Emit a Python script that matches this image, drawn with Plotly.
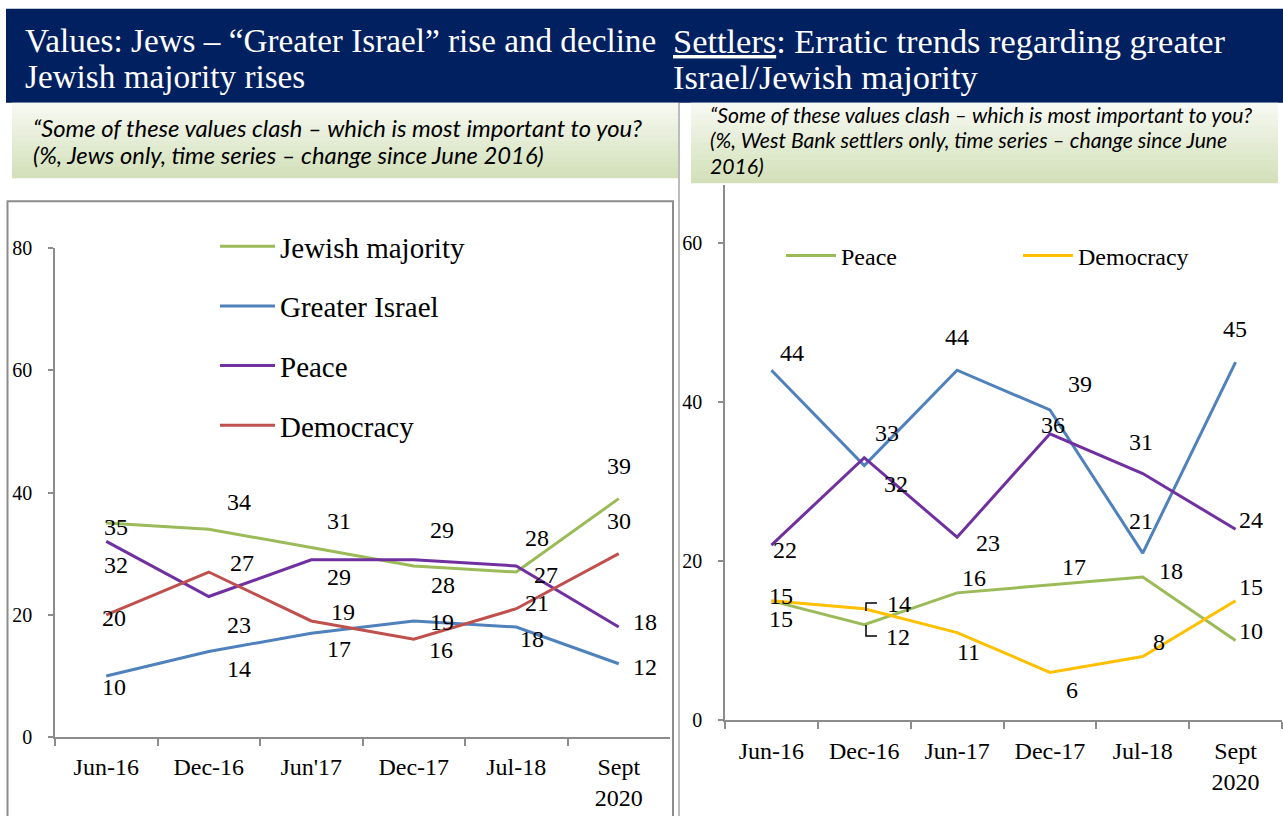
import plotly.graph_objects as go

# ---------------- data ----------------
left_categories = ["Jun-16", "Dec-16", "Jun'17", "Dec-17", "Jul-18", "Sept<br>2020"]
left_jewish_majority = [35, 34, 31, 28, 27, 39]
left_greater_israel = [10, 14, 17, 19, 18, 12]
left_peace = [32, 23, 29, 29, 28, 18]
left_democracy = [20, 27, 19, 16, 21, 30]
left_y_ticks = [0, 20, 40, 60, 80]

right_categories = ["Jun-16", "Dec-16", "Jun-17", "Dec-17", "Jul-18", "Sept<br>2020"]
right_greater_israel = [44, 32, 44, 39, 21, 45]
right_jewish_majority = [22, 33, 23, 36, 31, 24]
right_peace = [15, 12, 16, 17, 18, 10]
right_democracy = [15, 14, 11, 6, 8, 15]
right_y_ticks = [0, 20, 40, 60]

left_title = ["Values: Jews \u2013 \u201cGreater Israel\u201d rise and decline", "Jewish majority rises"]
right_title = ["<u>Settlers</u>: Erratic trends regarding greater", "Israel/Jewish majority"]
left_subtitle = ["\u201cSome of these values clash \u2013 which is most important to you?",
                 "(%, Jews only, time series \u2013 change since June 2016)"]
right_subtitle = ["\u201cSome of these values clash \u2013 which is most important to you?",
                  "(%, West Bank settlers only, time series \u2013 change since June",
                  "2016)"]

# ---------------- styling ----------------
W, H = 1283, 816
GREEN, BLUE, PURPLE, RED, YELLOW = "#9BBB59", "#4F81BD", "#7030A0", "#C0504D", "#FFC000"
NAVY = "#002060"
AXIS_GRAY = "#8C8C8C"
SERIF = "Liberation Serif"
SANS_IT = "Lato"

# vertical calibration of the capture (image y = SY * page y + OY)
SY, OY = 0.9725, 11.25


def px(xp):
    return xp / W


def py(yr):
    return 1 - ((yr - OY) / SY) / H


fig = go.Figure()

left_series = [
    ("Jewish majority", left_jewish_majority, GREEN,
     [(10, 4), (30, -26), (28, -26), (29, 19), (30, 3), (0, -32)]),
    ("Greater Israel", left_greater_israel, BLUE,
     [(8, 11), (30, 17), (28, 15), (28, 1), (16, 12), (26, 3)]),
    ("Peace", left_peace, PURPLE,
     [(10, 23), (30, 28), (28, 17), (28, -29), (21, -27), (26, -5)]),
    ("Democracy", left_democracy, RED,
     [(8, 3), (33, -9), (32, -9), (27, 10), (21, -6), (0, -32)]),
]
right_series = [
    ("Greater Israel", right_greater_israel, BLUE, False,
     [(21, -17), (32, 18), (0, -32), (30, -25), (-2, -31), (-1, -32)]),
    ("Jewish majority", right_jewish_majority, PURPLE, False,
     [(14, 5), (23, -24), (31, 6), (3, -9), (-2, -31), (15, -9)]),
    ("Peace", right_peace, GREEN, True,
     [(10, 18), (34, 12), (17, -14), (24, -17), (28, -6), (15, -9)]),
    ("Democracy", right_democracy, YELLOW, True,
     [(10, -5), (35, -5), (11, 19), (22, 17), (16, -14), (15, -13)]),
]

annotations = []
for name, vals, color, offs in left_series:
    fig.add_trace(go.Scatter(x=left_categories, y=vals, name=name, mode="lines",
                             line=dict(color=color, width=3), xaxis="x", yaxis="y",
                             legend="legend", legendgroup="L" + name, hoverinfo="skip"))
    for c, v, (dx, dy) in zip(left_categories, vals, offs):
        annotations.append(dict(x=c, y=v, xref="x", yref="y", text=str(v), showarrow=False,
                                xshift=dx, yshift=-dy / SY, font=dict(family=SERIF, size=24, color="black")))

for name, vals, color, show, offs in right_series:
    fig.add_trace(go.Scatter(x=right_categories, y=vals, name=name, mode="lines",
                             line=dict(color=color, width=3), xaxis="x2", yaxis="y2",
                             legend="legend2", showlegend=show, hoverinfo="skip"))
    for c, v, (dx, dy) in zip(right_categories, vals, offs):
        annotations.append(dict(x=c, y=v, xref="x2", yref="y2", text=str(v), showarrow=False,
                                xshift=dx, yshift=-dy / SY, font=dict(family=SERIF, size=24, color="black")))

# titles
for i, t in enumerate(left_title):
    annotations.append(dict(x=px(23), y=py(41 + 36 * i), xref="paper", yref="paper", text=t,
                            showarrow=False, xanchor="left", yanchor="middle",
                            font=dict(family=SERIF, size=33.2, color="white")))
for i, t in enumerate(right_title):
    annotations.append(dict(x=px(671), y=py(41 + 36 * i), xref="paper", yref="paper", text=t,
                            showarrow=False, xanchor="left", yanchor="middle",
                            font=dict(family=SERIF, size=34.4, color="white")))
for i, t in enumerate(left_subtitle):
    annotations.append(dict(x=px(31), y=py(128 + 27 * i), xref="paper", yref="paper", text="<i>" + t + "</i>",
                            showarrow=False, xanchor="left", yanchor="middle",
                            font=dict(family=SANS_IT, size=23.8, color="black")))
for i, t in enumerate(right_subtitle):
    annotations.append(dict(x=px(708), y=py(115 + 25.5 * i), xref="paper", yref="paper", text="<i>" + t + "</i>",
                            showarrow=False, xanchor="left", yanchor="middle",
                            font=dict(family=SANS_IT, size=21.2, color="black")))

shapes = []
# navy header
shapes.append(dict(type="rect", xref="paper", yref="paper", x0=px(6), x1=px(1283), y0=py(103), y1=py(9),
                   fillcolor=NAVY, line=dict(width=0), layer="below"))


# gradient subtitle boxes
def grad_box(x0, x1, y0, y1, n=14):
    top = (246, 249, 241)
    bot = (211, 224, 186)
    h = (y1 - y0) / n
    for k in range(n):
        f = k / (n - 1)
        col = tuple(int(round(top[j] + (bot[j] - top[j]) * f)) for j in range(3))
        shapes.append(dict(type="rect", xref="paper", yref="paper", x0=px(x0), x1=px(x1),
                           y0=py(y0 + h * (k + 1) + 0.5), y1=py(y0 + h * k),
                           fillcolor="rgb(%d,%d,%d)" % col, line=dict(width=0), layer="below"))


grad_box(12, 678, 103, 178)
grad_box(691, 1278, 103, 183)

# divider and left frame
shapes.append(dict(type="line", xref="paper", yref="paper", x0=px(679), x1=px(679), y0=py(103), y1=py(840),
                   line=dict(color="#A6A6A6", width=1.5)))
shapes.append(dict(type="rect", xref="paper", yref="paper", x0=px(7.5), x1=px(673), y0=py(850), y1=py(201.5),
                   line=dict(color=AXIS_GRAY, width=2), fillcolor="rgba(0,0,0,0)", layer="below"))
# leader lines on the right chart
shapes.append(dict(type="path", xref="paper", yref="paper",
                   path="M %f,%f L %f,%f L %f,%f" % (px(877), py(603), px(866), py(603), px(866), py(611)),
                   line=dict(color="black", width=1.5)))
shapes.append(dict(type="path", xref="paper", yref="paper",
                   path="M %f,%f L %f,%f L %f,%f" % (px(866), py(625), px(866), py(636), px(877), py(636)),
                   line=dict(color="black", width=1.5)))

axis_common = dict(showgrid=False, zeroline=False, showline=True, linecolor=AXIS_GRAY, linewidth=1.5,
                   ticks="outside", tickcolor=AXIS_GRAY, tickwidth=1.5, fixedrange=True)

fig.update_layout(
    width=W, height=H, autosize=False,
    margin=dict(l=0, r=0, t=0, b=0),
    paper_bgcolor="white", plot_bgcolor="rgba(0,0,0,0)",
    font=dict(family=SERIF, color="black"),
    xaxis=dict(domain=[px(55), px(670)], type="category", categoryorder="array",
               categoryarray=left_categories, range=[-0.5, 5.5], tickson="boundaries", ticklen=7,
               ticklabelstandoff=7,
               tickfont=dict(family=SERIF, size=24, color="black"), anchor="y", **axis_common),
    yaxis=dict(domain=[py(737), py(248)], range=[0, 80], tickvals=left_y_ticks, ticklen=5,
               ticklabelstandoff=12,
               tickfont=dict(family=SERIF, size=20, color="black"), anchor="x", **axis_common),
    xaxis2=dict(domain=[px(725), px(1282)], type="category", categoryorder="array",
                categoryarray=right_categories, range=[-0.5, 5.5], tickson="boundaries", ticklen=7,
                ticklabelstandoff=8,
                tickfont=dict(family=SERIF, size=24, color="black"), anchor="y2", **axis_common),
    yaxis2=dict(domain=[py(720), py(185)], range=[0, 67.3], tickvals=right_y_ticks, ticklen=5,
                ticklabelstandoff=12,
                tickfont=dict(family=SERIF, size=20, color="black"), anchor="x2", **axis_common),
    legend=dict(x=px(215), y=py(221), xanchor="left", yanchor="top", orientation="v",
                bgcolor="rgba(0,0,0,0)", font=dict(family=SERIF, size=29, color="black"),
                tracegroupgap=19, itemwidth=55, traceorder="grouped"),
    legend2=dict(x=px(781), y=py(256), xanchor="left", yanchor="middle", orientation="h",
                 bgcolor="rgba(0,0,0,0)", font=dict(family=SERIF, size=24, color="black"),
                 itemwidth=50, entrywidth=172),
    showlegend=True,
    annotations=annotations,
    shapes=shapes,
)

fig.write_html("out.html", config={"displayModeBar": False},
               post_script="document.body.style.margin='0';document.body.style.padding='0';"
                           "document.documentElement.style.overflow='hidden';")
